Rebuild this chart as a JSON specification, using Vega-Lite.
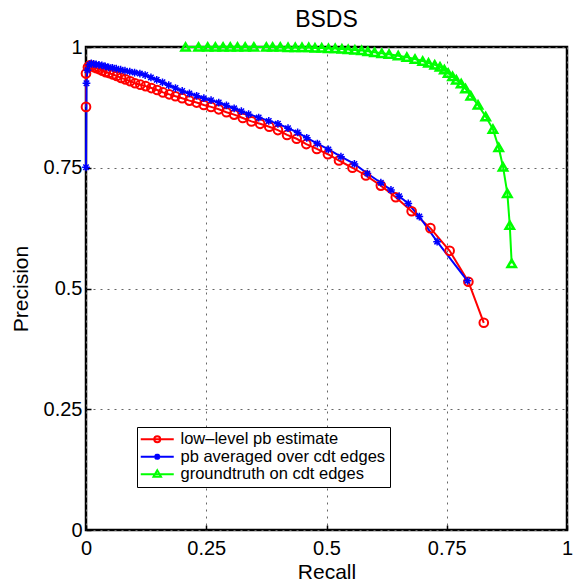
{
  "$schema": "https://vega.github.io/schema/vega-lite/v6.json",
  "width": 481,
  "height": 483,
  "autosize": "none",
  "padding": {"left": 86, "top": 47, "right": 6, "bottom": 51},
  "background": "white",
  "title": {"text": "BSDS", "fontSize": 23, "fontWeight": "normal", "font": "Liberation Sans", "color": "black", "anchor": "middle", "offset": 5},
  "config": {
    "view": {"stroke": "black", "strokeWidth": 2.5},
    "axis": {
      "domain": false,
      "grid": true,
      "gridColor": "#666",
      "gridDash": [2, 5],
      "gridWidth": 1,
      "gridOpacity": 1,
      "ticks": true,
      "tickSize": -5,
      "tickColor": "black",
      "tickWidth": 1.5,
      "labelFlush": false,
      "labelFont": "Liberation Sans",
      "labelFontSize": 20,
      "labelColor": "black",
      "titleFont": "Liberation Sans",
      "titleFontSize": 21,
      "titleFontWeight": "normal",
      "titleColor": "black"
    },
    "legend": {
      "orient": "none", "legendX": 51, "legendY": 380,
      "strokeColor": "black", "fillColor": "white", "padding": 4,
      "symbolSize": 100, "symbolStrokeWidth": 2, "symbolOffset": 8, "symbolOpacity": 1,
      "labelFont": "Liberation Sans", "labelFontSize": 16.5, "labelColor": "black",
      "labelOffset": 15, "labelLimit": 0, "rowPadding": 0.5
    }
  },
  "data": {
    "values": [
      {"series": "low–level pb estimate", "recall": 0.000, "precision": 0.876},
      {"series": "low–level pb estimate", "recall": 0.000, "precision": 0.945},
      {"series": "low–level pb estimate", "recall": 0.004, "precision": 0.958},
      {"series": "low–level pb estimate", "recall": 0.008, "precision": 0.962},
      {"series": "low–level pb estimate", "recall": 0.012, "precision": 0.961},
      {"series": "low–level pb estimate", "recall": 0.017, "precision": 0.958},
      {"series": "low–level pb estimate", "recall": 0.022, "precision": 0.956},
      {"series": "low–level pb estimate", "recall": 0.028, "precision": 0.954},
      {"series": "low–level pb estimate", "recall": 0.034, "precision": 0.951},
      {"series": "low–level pb estimate", "recall": 0.041, "precision": 0.948},
      {"series": "low–level pb estimate", "recall": 0.048, "precision": 0.946},
      {"series": "low–level pb estimate", "recall": 0.056, "precision": 0.943},
      {"series": "low–level pb estimate", "recall": 0.064, "precision": 0.940},
      {"series": "low–level pb estimate", "recall": 0.073, "precision": 0.936},
      {"series": "low–level pb estimate", "recall": 0.082, "precision": 0.933},
      {"series": "low–level pb estimate", "recall": 0.092, "precision": 0.929},
      {"series": "low–level pb estimate", "recall": 0.102, "precision": 0.925},
      {"series": "low–level pb estimate", "recall": 0.113, "precision": 0.922},
      {"series": "low–level pb estimate", "recall": 0.124, "precision": 0.919},
      {"series": "low–level pb estimate", "recall": 0.136, "precision": 0.915},
      {"series": "low–level pb estimate", "recall": 0.148, "precision": 0.911},
      {"series": "low–level pb estimate", "recall": 0.160, "precision": 0.906},
      {"series": "low–level pb estimate", "recall": 0.173, "precision": 0.902},
      {"series": "low–level pb estimate", "recall": 0.186, "precision": 0.898},
      {"series": "low–level pb estimate", "recall": 0.200, "precision": 0.894},
      {"series": "low–level pb estimate", "recall": 0.215, "precision": 0.889},
      {"series": "low–level pb estimate", "recall": 0.230, "precision": 0.885},
      {"series": "low–level pb estimate", "recall": 0.245, "precision": 0.880},
      {"series": "low–level pb estimate", "recall": 0.260, "precision": 0.876},
      {"series": "low–level pb estimate", "recall": 0.276, "precision": 0.871},
      {"series": "low–level pb estimate", "recall": 0.292, "precision": 0.865},
      {"series": "low–level pb estimate", "recall": 0.308, "precision": 0.860},
      {"series": "low–level pb estimate", "recall": 0.326, "precision": 0.853},
      {"series": "low–level pb estimate", "recall": 0.344, "precision": 0.846},
      {"series": "low–level pb estimate", "recall": 0.362, "precision": 0.841},
      {"series": "low–level pb estimate", "recall": 0.381, "precision": 0.835},
      {"series": "low–level pb estimate", "recall": 0.399, "precision": 0.828},
      {"series": "low–level pb estimate", "recall": 0.418, "precision": 0.818},
      {"series": "low–level pb estimate", "recall": 0.438, "precision": 0.810},
      {"series": "low–level pb estimate", "recall": 0.458, "precision": 0.799},
      {"series": "low–level pb estimate", "recall": 0.480, "precision": 0.789},
      {"series": "low–level pb estimate", "recall": 0.503, "precision": 0.778},
      {"series": "low–level pb estimate", "recall": 0.526, "precision": 0.765},
      {"series": "low–level pb estimate", "recall": 0.554, "precision": 0.750},
      {"series": "low–level pb estimate", "recall": 0.582, "precision": 0.734},
      {"series": "low–level pb estimate", "recall": 0.613, "precision": 0.713},
      {"series": "low–level pb estimate", "recall": 0.644, "precision": 0.689},
      {"series": "low–level pb estimate", "recall": 0.677, "precision": 0.660},
      {"series": "low–level pb estimate", "recall": 0.716, "precision": 0.625},
      {"series": "low–level pb estimate", "recall": 0.756, "precision": 0.578},
      {"series": "low–level pb estimate", "recall": 0.795, "precision": 0.514},
      {"series": "low–level pb estimate", "recall": 0.827, "precision": 0.429},
      {"series": "pb averaged over cdt edges", "recall": 0.000, "precision": 0.751},
      {"series": "pb averaged over cdt edges", "recall": 0.001, "precision": 0.925},
      {"series": "pb averaged over cdt edges", "recall": 0.003, "precision": 0.952},
      {"series": "pb averaged over cdt edges", "recall": 0.007, "precision": 0.963},
      {"series": "pb averaged over cdt edges", "recall": 0.011, "precision": 0.966},
      {"series": "pb averaged over cdt edges", "recall": 0.016, "precision": 0.965},
      {"series": "pb averaged over cdt edges", "recall": 0.021, "precision": 0.964},
      {"series": "pb averaged over cdt edges", "recall": 0.027, "precision": 0.963},
      {"series": "pb averaged over cdt edges", "recall": 0.033, "precision": 0.962},
      {"series": "pb averaged over cdt edges", "recall": 0.040, "precision": 0.960},
      {"series": "pb averaged over cdt edges", "recall": 0.047, "precision": 0.958},
      {"series": "pb averaged over cdt edges", "recall": 0.055, "precision": 0.957},
      {"series": "pb averaged over cdt edges", "recall": 0.063, "precision": 0.955},
      {"series": "pb averaged over cdt edges", "recall": 0.072, "precision": 0.953},
      {"series": "pb averaged over cdt edges", "recall": 0.081, "precision": 0.951},
      {"series": "pb averaged over cdt edges", "recall": 0.091, "precision": 0.949},
      {"series": "pb averaged over cdt edges", "recall": 0.101, "precision": 0.947},
      {"series": "pb averaged over cdt edges", "recall": 0.112, "precision": 0.945},
      {"series": "pb averaged over cdt edges", "recall": 0.123, "precision": 0.942},
      {"series": "pb averaged over cdt edges", "recall": 0.135, "precision": 0.937},
      {"series": "pb averaged over cdt edges", "recall": 0.147, "precision": 0.932},
      {"series": "pb averaged over cdt edges", "recall": 0.159, "precision": 0.927},
      {"series": "pb averaged over cdt edges", "recall": 0.172, "precision": 0.921},
      {"series": "pb averaged over cdt edges", "recall": 0.186, "precision": 0.915},
      {"series": "pb averaged over cdt edges", "recall": 0.200, "precision": 0.909},
      {"series": "pb averaged over cdt edges", "recall": 0.215, "precision": 0.904},
      {"series": "pb averaged over cdt edges", "recall": 0.230, "precision": 0.899},
      {"series": "pb averaged over cdt edges", "recall": 0.245, "precision": 0.894},
      {"series": "pb averaged over cdt edges", "recall": 0.260, "precision": 0.890},
      {"series": "pb averaged over cdt edges", "recall": 0.276, "precision": 0.885},
      {"series": "pb averaged over cdt edges", "recall": 0.292, "precision": 0.879},
      {"series": "pb averaged over cdt edges", "recall": 0.308, "precision": 0.873},
      {"series": "pb averaged over cdt edges", "recall": 0.323, "precision": 0.867},
      {"series": "pb averaged over cdt edges", "recall": 0.338, "precision": 0.861},
      {"series": "pb averaged over cdt edges", "recall": 0.359, "precision": 0.854},
      {"series": "pb averaged over cdt edges", "recall": 0.380, "precision": 0.847},
      {"series": "pb averaged over cdt edges", "recall": 0.399, "precision": 0.841},
      {"series": "pb averaged over cdt edges", "recall": 0.420, "precision": 0.832},
      {"series": "pb averaged over cdt edges", "recall": 0.440, "precision": 0.823},
      {"series": "pb averaged over cdt edges", "recall": 0.459, "precision": 0.812},
      {"series": "pb averaged over cdt edges", "recall": 0.481, "precision": 0.800},
      {"series": "pb averaged over cdt edges", "recall": 0.504, "precision": 0.788},
      {"series": "pb averaged over cdt edges", "recall": 0.530, "precision": 0.773},
      {"series": "pb averaged over cdt edges", "recall": 0.558, "precision": 0.758},
      {"series": "pb averaged over cdt edges", "recall": 0.585, "precision": 0.738},
      {"series": "pb averaged over cdt edges", "recall": 0.613, "precision": 0.719},
      {"series": "pb averaged over cdt edges", "recall": 0.634, "precision": 0.704},
      {"series": "pb averaged over cdt edges", "recall": 0.651, "precision": 0.691},
      {"series": "pb averaged over cdt edges", "recall": 0.670, "precision": 0.676},
      {"series": "pb averaged over cdt edges", "recall": 0.693, "precision": 0.649},
      {"series": "pb averaged over cdt edges", "recall": 0.730, "precision": 0.597},
      {"series": "pb averaged over cdt edges", "recall": 0.793, "precision": 0.516},
      {"series": "groundtruth on cdt edges", "recall": 0.207, "precision": 1.000},
      {"series": "groundtruth on cdt edges", "recall": 0.234, "precision": 1.000},
      {"series": "groundtruth on cdt edges", "recall": 0.253, "precision": 1.000},
      {"series": "groundtruth on cdt edges", "recall": 0.269, "precision": 1.000},
      {"series": "groundtruth on cdt edges", "recall": 0.285, "precision": 1.000},
      {"series": "groundtruth on cdt edges", "recall": 0.300, "precision": 1.000},
      {"series": "groundtruth on cdt edges", "recall": 0.315, "precision": 1.000},
      {"series": "groundtruth on cdt edges", "recall": 0.331, "precision": 1.000},
      {"series": "groundtruth on cdt edges", "recall": 0.349, "precision": 1.000},
      {"series": "groundtruth on cdt edges", "recall": 0.375, "precision": 1.000},
      {"series": "groundtruth on cdt edges", "recall": 0.388, "precision": 1.000},
      {"series": "groundtruth on cdt edges", "recall": 0.404, "precision": 1.000},
      {"series": "groundtruth on cdt edges", "recall": 0.420, "precision": 0.999},
      {"series": "groundtruth on cdt edges", "recall": 0.435, "precision": 0.999},
      {"series": "groundtruth on cdt edges", "recall": 0.449, "precision": 0.999},
      {"series": "groundtruth on cdt edges", "recall": 0.463, "precision": 0.999},
      {"series": "groundtruth on cdt edges", "recall": 0.476, "precision": 0.998},
      {"series": "groundtruth on cdt edges", "recall": 0.490, "precision": 0.998},
      {"series": "groundtruth on cdt edges", "recall": 0.504, "precision": 0.997},
      {"series": "groundtruth on cdt edges", "recall": 0.518, "precision": 0.997},
      {"series": "groundtruth on cdt edges", "recall": 0.532, "precision": 0.996},
      {"series": "groundtruth on cdt edges", "recall": 0.545, "precision": 0.995},
      {"series": "groundtruth on cdt edges", "recall": 0.559, "precision": 0.994},
      {"series": "groundtruth on cdt edges", "recall": 0.573, "precision": 0.993},
      {"series": "groundtruth on cdt edges", "recall": 0.586, "precision": 0.991},
      {"series": "groundtruth on cdt edges", "recall": 0.600, "precision": 0.989},
      {"series": "groundtruth on cdt edges", "recall": 0.615, "precision": 0.987},
      {"series": "groundtruth on cdt edges", "recall": 0.630, "precision": 0.985},
      {"series": "groundtruth on cdt edges", "recall": 0.649, "precision": 0.982},
      {"series": "groundtruth on cdt edges", "recall": 0.667, "precision": 0.979},
      {"series": "groundtruth on cdt edges", "recall": 0.684, "precision": 0.975},
      {"series": "groundtruth on cdt edges", "recall": 0.700, "precision": 0.971},
      {"series": "groundtruth on cdt edges", "recall": 0.712, "precision": 0.967},
      {"series": "groundtruth on cdt edges", "recall": 0.725, "precision": 0.963},
      {"series": "groundtruth on cdt edges", "recall": 0.736, "precision": 0.959},
      {"series": "groundtruth on cdt edges", "recall": 0.745, "precision": 0.953},
      {"series": "groundtruth on cdt edges", "recall": 0.753, "precision": 0.946},
      {"series": "groundtruth on cdt edges", "recall": 0.762, "precision": 0.939},
      {"series": "groundtruth on cdt edges", "recall": 0.770, "precision": 0.932},
      {"series": "groundtruth on cdt edges", "recall": 0.780, "precision": 0.924},
      {"series": "groundtruth on cdt edges", "recall": 0.789, "precision": 0.914},
      {"series": "groundtruth on cdt edges", "recall": 0.800, "precision": 0.899},
      {"series": "groundtruth on cdt edges", "recall": 0.815, "precision": 0.880},
      {"series": "groundtruth on cdt edges", "recall": 0.831, "precision": 0.856},
      {"series": "groundtruth on cdt edges", "recall": 0.846, "precision": 0.830},
      {"series": "groundtruth on cdt edges", "recall": 0.858, "precision": 0.792},
      {"series": "groundtruth on cdt edges", "recall": 0.867, "precision": 0.752},
      {"series": "groundtruth on cdt edges", "recall": 0.876, "precision": 0.697},
      {"series": "groundtruth on cdt edges", "recall": 0.881, "precision": 0.631},
      {"series": "groundtruth on cdt edges", "recall": 0.885, "precision": 0.552}
    ]
  },
  "encoding": {
    "x": {
      "field": "recall", "type": "quantitative",
      "scale": {"domain": [0, 1], "nice": false, "zero": false},
      "axis": {"title": "Recall", "values": [0, 0.25, 0.5, 0.75, 1], "labelExpr": "format(datum.value, '.2~f')", "labelPadding": 13, "titlePadding": 3}
    },
    "y": {
      "field": "precision", "type": "quantitative",
      "scale": {"domain": [0, 1], "nice": false, "zero": false},
      "axis": {"title": "Precision", "values": [0, 0.25, 0.5, 0.75, 1], "labelExpr": "format(datum.value, '.2~f')", "labelPadding": 9, "titlePadding": 12}
    }
  },
  "layer": [
    {
      "mark": {"type": "line", "strokeWidth": 2, "clip": false},
      "encoding": {
        "color": {
          "field": "series", "type": "nominal",
          "scale": {"domain": ["low–level pb estimate", "pb averaged over cdt edges", "groundtruth on cdt edges"], "range": ["#ff0000", "#0000ff", "#00ff00"]},
          "legend": {"title": null}
        },
        "order": {"field": "recall", "type": "quantitative"}
      }
    },
    {
      "transform": [{"filter": "datum.series === 'low–level pb estimate'"}],
      "mark": {"type": "point", "shape": "circle", "filled": false, "stroke": "#ff0000", "strokeWidth": 2, "size": 75, "opacity": 1, "clip": false}
    },
    {
      "transform": [{"filter": "datum.series === 'pb averaged over cdt edges'"}],
      "mark": {"type": "point", "shape": "M-1,0H1M0,-1V1M-0.7,-0.7L0.7,0.7M-0.7,0.7L0.7,-0.7", "filled": false, "stroke": "#0000ff", "strokeWidth": 1.5, "size": 60, "opacity": 1, "clip": false}
    },
    {
      "transform": [{"filter": "datum.series === 'groundtruth on cdt edges'"}],
      "mark": {"type": "point", "shape": "triangle-up", "filled": false, "stroke": "#00ff00", "strokeWidth": 2.5, "size": 70, "opacity": 1, "clip": false}
    },
    {
      "mark": {"type": "point", "filled": false, "strokeWidth": 2, "opacity": 0},
      "encoding": {
        "color": {
          "field": "series", "type": "nominal",
          "scale": {"domain": ["low–level pb estimate", "pb averaged over cdt edges", "groundtruth on cdt edges"], "range": ["#ff0000", "#0000ff", "#00ff00"]},
          "legend": {"title": null}
        },
        "shape": {
          "field": "series", "type": "nominal",
          "scale": {"domain": ["low–level pb estimate", "pb averaged over cdt edges", "groundtruth on cdt edges"], "range": [
            "M-3.3,0H3.3M-0.6,0A0.6,0.6 0 1,0 0.6,0A0.6,0.6 0 1,0 -0.6,0",
            "M-3.3,0H3.3M-0.6,0H0.6M0,-0.6V0.6M-0.45,-0.45L0.45,0.45M-0.45,0.45L0.45,-0.45",
            "M-3.3,0H3.3M0,-0.8L0.75,0.5L-0.75,0.5Z"
          ]},
          "legend": {"title": null}
        }
      }
    }
  ]
}
